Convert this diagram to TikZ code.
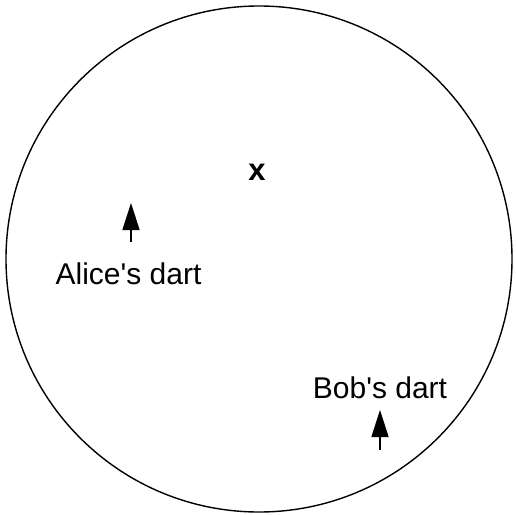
\documentclass[tikz,border=0pt]{standalone}
\usepackage{fontspec}
\setmainfont{Liberation Sans}[Ligatures=TeXOff]
\usetikzlibrary{arrows.meta}
\begin{document}
\begin{tikzpicture}[x=1pt,y=-1pt,
  lbl/.style={font=\fontsize{30}{35}\selectfont, inner sep=0pt, anchor=base},
  dart/.style={line width=1.6pt, -{Triangle[length=27pt,width=17pt]}}]
\useasboundingbox (0,0) rectangle (516,514);
\node[draw, circle, line width=1.4pt, minimum size=506pt, inner sep=0pt] (board) at (259,259) {};
\node[font=\bfseries\fontsize{31}{36}\selectfont, inner sep=0pt] (x) at (257,172) {x};
\node[lbl] (alice) at (128.5,284) {Alice's dart};
\node[lbl] (bob) at (380,398) {Bob's dart};
\coordinate (a0) at (131,242);
\coordinate (a1) at (131,203);
\coordinate (b0) at (380,450);
\coordinate (b1) at (380,410);
\draw[dart] (a0) -- (a1);
\draw[dart] (b0) -- (b1);
\end{tikzpicture}
\end{document}
